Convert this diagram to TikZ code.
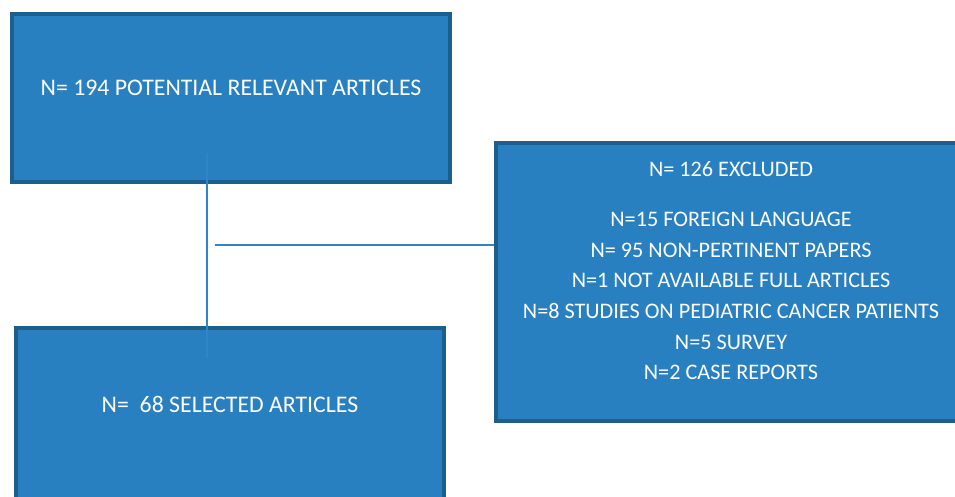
\documentclass[tikz,border=0pt]{standalone}
\usepackage{fontspec}
\setmainfont{Carlito}
\definecolor{boxfill}{RGB}{41,128,193}
\definecolor{boxedge}{RGB}{28,94,140}
\definecolor{linkcol}{RGB}{46,134,200}
\tikzset{
  flowbox/.style={draw=boxedge, fill=boxfill, line width=4pt, rectangle, inner sep=0pt},
  boxtext/.style={text=white, font=\fontsize{22.2}{30.7}\selectfont, inner sep=0pt, align=center},
  bigtext/.style={boxtext, font=\fontsize{23.8}{28}\selectfont},
  link/.style={draw=linkcol, line width=1.3pt}
}
\begin{document}
\begin{tikzpicture}[x=1pt,y=-1pt]
\useasboundingbox (0,0) rectangle (955,497);
\node[flowbox, minimum width=438pt, minimum height=168pt] (potential) at (231,98) {};
\node[flowbox, minimum width=469pt, minimum height=278pt] (excluded) at (730.5,282) {};
\node[flowbox, minimum width=428pt, minimum height=174pt] (selected) at (230,415) {};
\node[bigtext] (t1) at (231,88) {N= 194 POTENTIAL RELEVANT ARTICLES};
\node[boxtext] (t2) at (731,169) {N= 126 EXCLUDED};
\node[boxtext] (t3) at (731,296) {N=15 FOREIGN LANGUAGE\\N= 95 NON-PERTINENT PAPERS\\N=1 NOT AVAILABLE FULL ARTICLES\\N=8 STUDIES ON PEDIATRIC CANCER PATIENTS\\N=5 SURVEY\\N=2 CASE REPORTS};
\node[bigtext] (t4) at (230,404) {N=\ \ 68 SELECTED ARTICLES};
\coordinate (vtop) at (207,153);
\coordinate (vbot) at (207,358);
\coordinate (hleft) at (215,245);
\draw[link] (vtop) -- (vbot);
\draw[link] (hleft) -- (hleft -| excluded.west);
\end{tikzpicture}
\end{document}
